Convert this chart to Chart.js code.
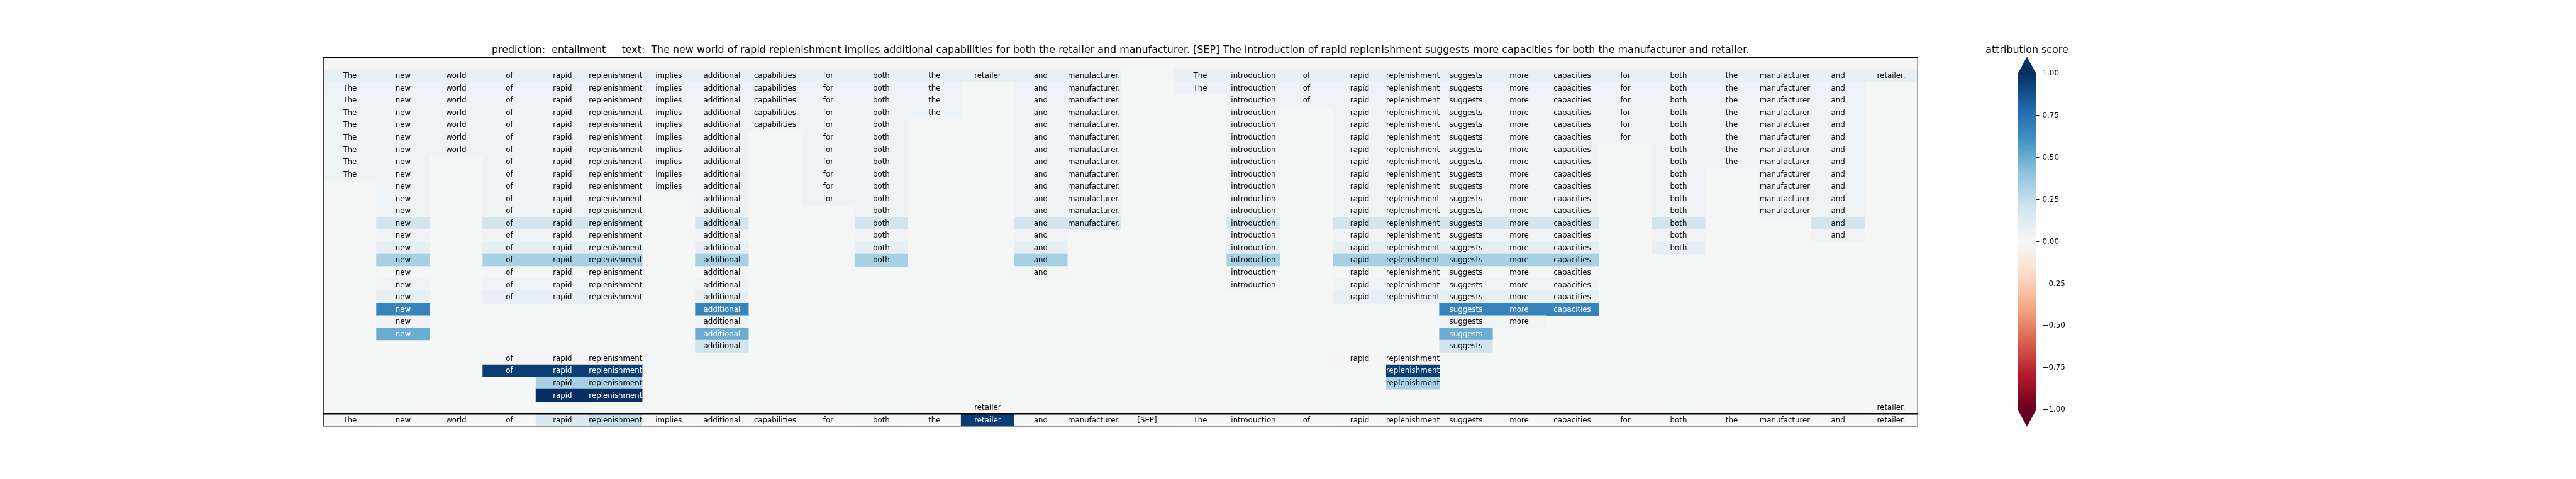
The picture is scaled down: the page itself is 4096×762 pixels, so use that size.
<!DOCTYPE html>
<html><head><meta charset="utf-8">
<script src="https://cdn.jsdelivr.net/npm/chart.js@4.4.1/dist/chart.umd.min.js"></script>
<style>
html,body{margin:0;padding:0;background:#fff;}
#wrap{position:relative;width:4096px;height:762px;overflow:hidden;background:#fff;}
canvas{position:absolute;top:0;}
</style></head><body>
<div id="wrap">
<canvas id="main" width="4096" height="762" style="left:0"></canvas>
<canvas id="cbar" width="220" height="762" style="left:3150px"></canvas>
</div>
<script>
// ---------------- data ----------------
const tokens = ["The","new","world","of","rapid","replenishment","implies","additional","capabilities","for","both","the","retailer","and","manufacturer.","[SEP]","The","introduction","of","rapid","replenishment","suggests","more","capacities","for","both","the","manufacturer","and","retailer."];

// token indices belonging to each group row (top to bottom)
const groupMembers = [
  [0,1,2,3,4,5,6,7,8,9,10,11,12,13,14,16,17,18,19,20,21,22,23,24,25,26,27,28,29],
  [0,1,2,3,4,5,6,7,8,9,10,11,13,14,16,17,18,19,20,21,22,23,24,25,26,27,28],
  [0,1,2,3,4,5,6,7,8,9,10,11,13,14,17,18,19,20,21,22,23,24,25,26,27,28],
  [0,1,2,3,4,5,6,7,8,9,10,11,13,14,17,19,20,21,22,23,24,25,26,27,28],
  [0,1,2,3,4,5,6,7,8,9,10,13,14,17,19,20,21,22,23,24,25,26,27,28],
  [0,1,2,3,4,5,6,7,9,10,13,14,17,19,20,21,22,23,24,25,26,27,28],
  [0,1,2,3,4,5,6,7,9,10,13,14,17,19,20,21,22,23,25,26,27,28],
  [0,1,3,4,5,6,7,9,10,13,14,17,19,20,21,22,23,25,26,27,28],
  [0,1,3,4,5,6,7,9,10,13,14,17,19,20,21,22,23,25,27,28],
  [1,3,4,5,6,7,9,10,13,14,17,19,20,21,22,23,25,27,28],
  [1,3,4,5,7,9,10,13,14,17,19,20,21,22,23,25,27,28],
  [1,3,4,5,7,10,13,14,17,19,20,21,22,23,25,27,28],
  [1,3,4,5,7,10,13,14,17,19,20,21,22,23,25,28],
  [1,3,4,5,7,10,13,17,19,20,21,22,23,25,28],
  [1,3,4,5,7,10,13,17,19,20,21,22,23,25],
  [1,3,4,5,7,10,13,17,19,20,21,22,23],
  [1,3,4,5,7,13,17,19,20,21,22,23],
  [1,3,4,5,7,17,19,20,21,22,23],
  [1,3,4,5,7,19,20,21,22,23],
  [1,7,21,22,23],
  [1,7,21,22],
  [1,7,21],
  [7,21],
  [3,4,5,19,20],
  [3,4,5,20],
  [4,5,20],
  [4,5],
  [12,29]
];
const groupScores = [0.08,0.06,0.05,0.05,0.05,0.045,0.05,0.05,0.05,0.045,0.045,0.045,0.19,0.035,0.09,0.33,0.015,0.04,0.09,0.67,0.03,0.5,0.2,-0.015,0.95,0.33,1.0,0.0];

// individual token scores (bottom row)
const tokenScores = [0.01,0.005,0.0,0.005,0.14,0.24,0.0,0.01,0.0,0.0,0.01,0.0,0.95,0.0,0.01,-0.01,0.0,0.005,0.0,0.01,0.02,0.01,0.0,0.0,0.0,0.005,0.0,0.0,0.0,0.0];

const titleText = "prediction:  entailment     text:  The new world of rapid replenishment implies additional capabilities for both the retailer and manufacturer. [SEP] The introduction of rapid replenishment suggests more capacities for both the manufacturer and retailer.";
const colorbarLabel = "attribution score";
const colorbarTicks = [-1, -0.75, -0.5, -0.25, 0, 0.25, 0.5, 0.75, 1];
const rdbuStops = ['#67001f','#b2182b','#d6604d','#f4a582','#fddbc7','#f7f7f7','#d1e5f0','#92c5de','#4393c3','#2166ac','#053061'];

// ---------------- helpers ----------------
function hexRgb(h){ return [parseInt(h.slice(1,3),16),parseInt(h.slice(3,5),16),parseInt(h.slice(5,7),16)]; }
function rdbu(v){
  const t = Math.min(1, Math.max(0, (v + 1) / 2)) * 10;
  const i = Math.min(9, Math.floor(t)); const f = t - i;
  const a = hexRgb(rdbuStops[i]), b = hexRgb(rdbuStops[i+1]);
  const c = a.map((x,k)=>Math.round(x + (b[k]-x)*f));
  return 'rgb(' + c.join(',') + ')';
}
const FONT = '"DejaVu Sans", "Liberation Sans", sans-serif';
const EMPTY_COLOR = '#f5f7f7';

// rows: 0 = empty top row, 1..28 = groups, 29 = tokens
const rowLabels = ['r0'].concat(groupMembers.map((_,i)=>'g'+(i+1))).concat(['tokens']);
const cells = [];
groupMembers.forEach((mem, r) => {
  mem.forEach(c => cells.push({x:[c, c+1], y: 'g'+(r+1), v: groupScores[r], t: tokens[c]}));
});
tokens.forEach((tk, c) => cells.push({x:[c, c+1], y: 'tokens', v: tokenScores[c], t: tk}));

// ---------------- main chart ----------------
const cellPlugin = {
  id: 'cells',
  beforeDatasetsDraw(chart){
    const {ctx, chartArea:a} = chart;
    ctx.save(); ctx.fillStyle = EMPTY_COLOR;
    ctx.fillRect(a.left, a.top, a.right - a.left, a.bottom - a.top);
    ctx.restore();
  },
  afterDatasetsDraw(chart){
    const ctx = chart.ctx, meta = chart.getDatasetMeta(0), ds = chart.data.datasets[0];
    ctx.save();
    ctx.font = '11.8px ' + FONT; ctx.textAlign = 'center'; ctx.textBaseline = 'middle';
    meta.data.forEach((el, i) => {
      const d = ds.data[i]; const p = el.getProps(['x','y','base'], true);
      ctx.fillStyle = d.v > 0.45 ? '#ffffff' : '#000000';
      ctx.fillText(d.t, (p.x + p.base) / 2, p.y + 0.5);
    });
    const xs = chart.scales.x, ys = chart.scales.y, a = chart.chartArea;
    const L = xs.getPixelForValue(0), R = xs.getPixelForValue(tokens.length);
    const sep = (ys.getPixelForValue(rowLabels.length - 2) + ys.getPixelForValue(rowLabels.length - 1)) / 2;
    ctx.strokeStyle = '#000'; ctx.lineWidth = 1.25;
    ctx.strokeRect(L, a.top, R - L, a.bottom - a.top);
    ctx.lineWidth = 2.6;
    ctx.beginPath(); ctx.moveTo(L, sep); ctx.lineTo(R, sep); ctx.stroke();
    // title
    ctx.fillStyle = '#000'; ctx.font = '15.9px ' + FONT; ctx.textAlign = 'center'; ctx.textBaseline = 'alphabetic';
    ctx.fillText(titleText, (L + R) / 2, 83.8);
    ctx.restore();
  }
};

new Chart(document.getElementById('main'), {
  type: 'bar',
  data: { labels: rowLabels, datasets: [{
    data: cells,
    backgroundColor: cells.map(c => rdbu(c.v)),
    borderWidth: 0,
    barPercentage: 1, categoryPercentage: 1
  }]},
  options: {
    indexAxis: 'y', responsive: false, animation: false, devicePixelRatio: 1, events: [],
    layout: { padding: { left: 514.1, right: 4096 - 3049.3, top: 91.4, bottom: 762 - 677.8 } },
    scales: {
      x: { type: 'linear', min: 0, max: tokens.length, display: false },
      y: { type: 'category', display: false }
    },
    plugins: { legend: { display: false }, tooltip: { enabled: false }, title: { display: false } }
  },
  plugins: [cellPlugin]
});

// ---------------- colorbar ----------------
const cbPlugin = {
  id: 'cb',
  beforeDatasetsDraw(chart){
    const {ctx, chartArea:a} = chart; const y = chart.scales.y;
    const top = y.getPixelForValue(1), bot = y.getPixelForValue(-1);
    ctx.save();
    const g = ctx.createLinearGradient(0, bot, 0, top);
    rdbuStops.forEach((c, i) => g.addColorStop(i / 10, c));
    ctx.fillStyle = g; ctx.fillRect(a.left, top, a.right - a.left, bot - top);
    const ext = (bot - top) * 0.05, cx = (a.left + a.right) / 2;
    ctx.fillStyle = rdbuStops[10];
    ctx.beginPath(); ctx.moveTo(a.left, top + 0.5); ctx.lineTo(cx, top - ext); ctx.lineTo(a.right, top + 0.5); ctx.closePath(); ctx.fill();
    ctx.fillStyle = rdbuStops[0];
    ctx.beginPath(); ctx.moveTo(a.left, bot - 0.5); ctx.lineTo(cx, bot + ext); ctx.lineTo(a.right, bot - 0.5); ctx.closePath(); ctx.fill();
    ctx.fillStyle = '#000'; ctx.font = '15.9px ' + FONT; ctx.textAlign = 'center'; ctx.textBaseline = 'alphabetic';
    ctx.fillText(colorbarLabel, cx, 83.8);
    ctx.restore();
  }
};

new Chart(document.getElementById('cbar'), {
  type: 'scatter',
  data: { datasets: [{ data: [] }] },
  options: {
    responsive: false, animation: false, devicePixelRatio: 1, events: [],
    layout: { padding: { left: 58.2, right: 220 - 87.8 - 70, top: 117.1, bottom: 762 - 652.1 } },
    scales: {
      x: { display: false },
      y: {
        position: 'right', min: -1, max: 1,
        afterFit(scale){ scale.width = 70; },
        afterBuildTicks(scale){ scale.ticks = colorbarTicks.map(v => ({value: v})); },
        ticks: {
          color: '#000', font: { family: FONT, size: 11.9 }, padding: 5,
          callback: v => (v < 0 ? '\u2212' : '') + Math.abs(v).toFixed(2)
        },
        grid: { drawOnChartArea: false, drawTicks: true, tickLength: 4.7, color: '#000', lineWidth: 0.9 },
        border: { display: false }
      }
    },
    plugins: { legend: { display: false }, tooltip: { enabled: false } }
  },
  plugins: [cbPlugin]
});
</script>
</body></html>
